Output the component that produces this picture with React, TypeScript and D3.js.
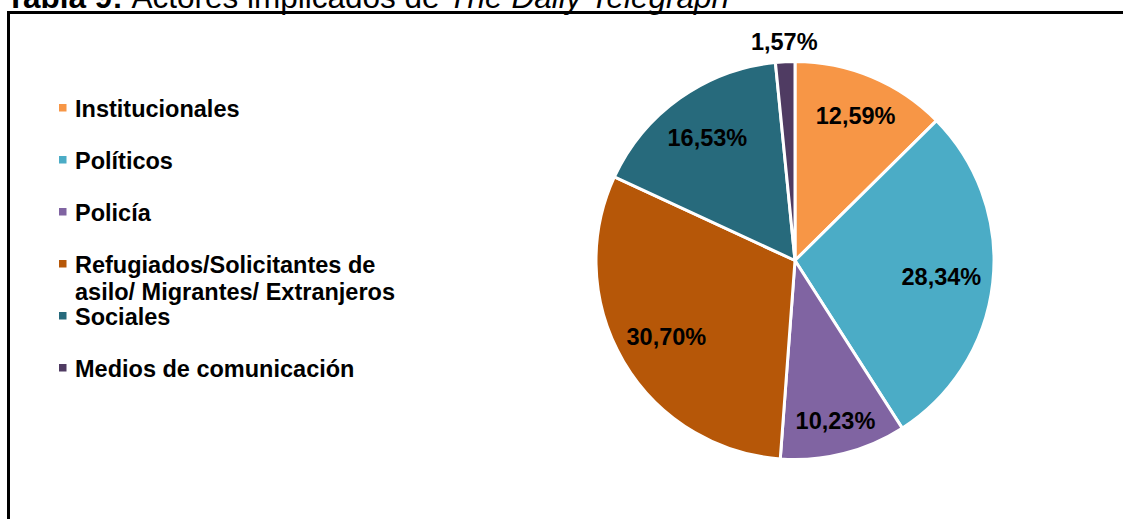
import React, { useRef, useEffect } from 'react';
import * as d3 from 'd3';

// Actores implicados de The Daily Telegraph (porcentajes)
const categories = [
    'Institucionales',
    'Políticos',
    'Policía',
    'Refugiados/Solicitantes de asilo/ Migrantes/ Extranjeros',
    'Sociales',
    'Medios de comunicación',
];
const values = [12.59, 28.34, 10.23, 30.7, 16.53, 1.57];
const valueLabels = ['12,59%', '28,34%', '10,23%', '30,70%', '16,53%', '1,57%'];
const colors = ['#F79646', '#4BACC6', '#8064A2', '#B65708', '#276A7C', '#4F3B62'];
// legend text split into lines as in the original
const legendLines = [
    ['Institucionales'],
    ['Políticos'],
    ['Policía'],
    ['Refugiados/Solicitantes de', 'asilo/ Migrantes/ Extranjeros'],
    ['Sociales'],
    ['Medios de comunicación'],
];

const FONT = '"Liberation Sans", Arial, Helvetica, sans-serif';

const App = () => {
    const svgRef = useRef<SVGSVGElement>(null);
    const width = 1123;
    const height = 519;

    useEffect(() => {
        const svg = d3.select(svgRef.current);
        svg.selectAll('*').remove();

        // frame around the figure (top and left edges visible)
        svg.append('line')
            .attr('x1', 9).attr('x2', width)
            .attr('y1', 12.5).attr('y2', 12.5)
            .attr('stroke', '#000').attr('stroke-width', 3);
        svg.append('line')
            .attr('x1', 8.5).attr('x2', 8.5)
            .attr('y1', 11).attr('y2', height)
            .attr('stroke', '#000').attr('stroke-width', 3);

        // title, mostly cut off at the top (as in the source image)
        const title = svg.append('text')
            .attr('x', 6).attr('y', 7.5)
            .attr('font-family', FONT).attr('font-size', 31.5)
            .attr('fill', '#000');
        title.append('tspan').attr('font-weight', 'bold').text('Tabla 9: ');
        title.append('tspan').text('Actores implicados de ');
        title.append('tspan').attr('font-style', 'italic').text('The Daily Telegraph');

        // pie
        const cx = 795, cy = 260.5, r = 199;
        const pie = d3.pie<number>().sort(null).value((d) => d);
        const arcs = pie(values);
        const arc = d3.arc<d3.PieArcDatum<number>>().innerRadius(0).outerRadius(r);

        const g = svg.append('g').attr('transform', `translate(${cx},${cy})`);
        g.selectAll('path')
            .data(arcs)
            .enter()
            .append('path')
            .attr('d', arc)
            .attr('fill', (d, i) => colors[i])
            .attr('stroke', '#fff')
            .attr('stroke-width', 3)
            .attr('stroke-linejoin', 'round');

        // data labels: inside the slice, the tiny one outside
        const labelPos = [0.79, 0.74, 0.83, 0.75, 0.76, 1.1];
        g.selectAll('text.lbl')
            .data(arcs)
            .enter()
            .append('text')
            .attr('class', 'lbl')
            .attr('transform', (d, i) => {
                const a = (d.startAngle + d.endAngle) / 2;
                const rr = r * labelPos[i];
                return `translate(${Math.sin(a) * rr},${-Math.cos(a) * rr})`;
            })
            .attr('text-anchor', 'middle')
            .attr('dy', '0.36em')
            .attr('font-family', FONT)
            .attr('font-weight', 'bold')
            .attr('font-size', 23.5)
            .attr('fill', '#000')
            .text((d, i) => valueLabels[i]);

        // legend
        const legendY = d3.scaleLinear().domain([0, 1]).range([116.5, 168.5]);
        const legend = svg.append('g');
        categories.forEach((c, i) => {
            const y = legendY(i);
            legend.append('rect')
                .attr('x', 59).attr('y', y - 12.5)
                .attr('width', 7.5).attr('height', 7.5)
                .attr('fill', colors[i]);
            const t = legend.append('text')
                .attr('x', 75).attr('y', y)
                .attr('font-family', FONT)
                .attr('font-weight', 'bold')
                .attr('font-size', 23.5)
                .attr('fill', '#000');
            legendLines[i].forEach((line, j) => {
                t.append('tspan').attr('x', 75).attr('dy', j === 0 ? 0 : 27.5).text(line);
            });
        });
    }, []);

    return (
        <svg
            ref={svgRef}
            width={width}
            height={height}
            style={{ position: 'absolute', left: 0, top: 0, background: '#fff' }}
        ></svg>
    );
};

export default App;
